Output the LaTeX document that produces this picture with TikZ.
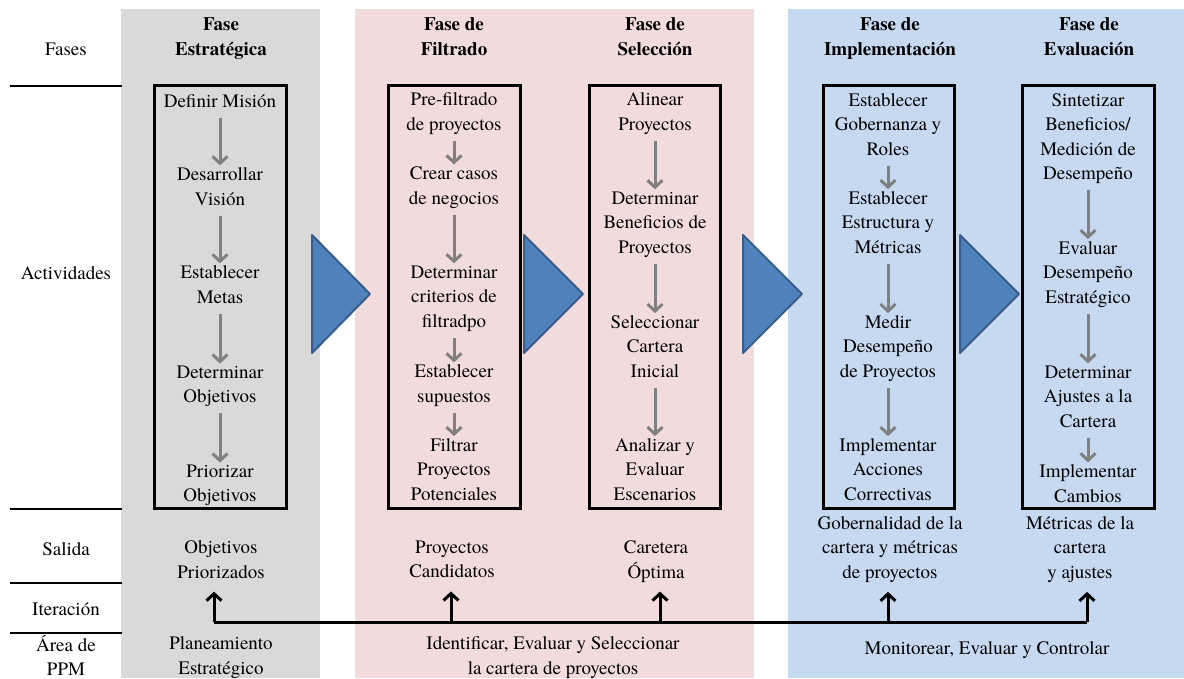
\documentclass[tikz,border=0pt]{standalone}
\usepackage{fontspec}
\setmainfont{texgyretermes}[Extension=.otf, UprightFont=*-regular, BoldFont=*-bold, ItalicFont=*-italic, BoldItalicFont=*-bolditalic]
\usetikzlibrary{arrows.meta}

\definecolor{grisfase}{HTML}{D9D9D9}
\definecolor{rosafase}{HTML}{F2DCDB}
\definecolor{azulfase}{HTML}{C6D9F1}
\definecolor{azultri}{HTML}{4F81BD}
\definecolor{bordetri}{HTML}{385D8A}
\definecolor{grisflecha}{HTML}{808080}

\tikzset{
	texto/.style={align=center, inner sep=0pt, yshift=-3pt, font=\fontsize{19}{24.5}\selectfont,
		execute at begin node=\strut, execute at end node=\strut},
	titulo/.style={texto, font=\fontsize{19}{24.5}\selectfont\bfseries},
	caja/.style={draw=black, line width=3pt},
	raya/.style={draw=black, line width=2pt},
	paso/.style={draw=grisflecha, line width=3pt, -{Straight Barb[length=7pt,width=15pt]}, shorten <=3pt, shorten >=2pt},
	triangulo/.style={fill=azultri, draw=bordetri, line width=2pt, line join=round},
	iteracion/.style={draw=black, line width=3pt},
	subida/.style={iteracion, -{Straight Barb[length=7pt,width=15pt]}, shorten >=6pt}
}

\begin{document}
\begin{tikzpicture}[x=1pt,y=-1pt]
		\useasboundingbox (0,0) rectangle (1184,678);

		% Fondos de las fases
		\fill[grisfase] (121,9) rectangle (320,678);
		\fill[rosafase] (355,9) rectangle (754,678);
		\fill[azulfase] (788,9) rectangle (1184,678);

		% Filas a la izquierda
		\draw[raya] (10,86) -- (122,86);
		\draw[raya] (10,509) -- (122,509);
		\draw[raya] (10,583) -- (122,583);
		\draw[raya] (10,633) -- (122,633);
		\node[texto] (fases) at (66,48) {Fases};
		\node[texto] (actividades) at (66,272) {Actividades};
		\node[texto] (salida) at (66,548) {Salida};
		\node[texto] (iter) at (66,608) {Iteración};
		\node[texto] (area) at (66,656) {Área de\\PPM};

		% Titulos
		\node[titulo] (tE) at (221,37) {Fase\\Estratégica};
		\node[titulo] (tF) at (454,37) {Fase de\\Filtrado};
		\node[titulo] (tS) at (655,37) {Fase de\\Selección};
		\node[titulo] (tI) at (890,37) {Fase de\\Implementación};
		\node[titulo] (tV) at (1089,37) {Fase de\\Evaluación};

		% Cajas de actividades
		\draw[caja] (154,85) rectangle (286,508);
		\draw[caja] (388,85) rectangle (520,508);
		\draw[caja] (589,85) rectangle (720,508);
		\draw[caja] (823,85) rectangle (954,508);
		\draw[caja] (1022,85) rectangle (1154,508);

		% Triangulos entre fases
		\filldraw[triangulo] (312,235) -- (370,294) -- (312,353) -- cycle;
		\filldraw[triangulo] (524,235) -- (583,294) -- (524,353) -- cycle;
		\filldraw[triangulo] (743,235) -- (802,294) -- (743,353) -- cycle;
		\filldraw[triangulo] (960,235) -- (1019,294) -- (960,353) -- cycle;

		% Estrategica
		\node[texto] (e1) at (220,100) {Definir Misión};
		\node[texto] (e2) at (220,187) {Desarrollar\\Visión};
		\node[texto] (e3) at (220,285) {Establecer\\Metas};
		\node[texto] (e4) at (220,385) {Determinar\\Objetivos};
		\node[texto] (e5) at (220,484) {Priorizar\\Objetivos};
		\draw[paso] (e1) -- (e2);
		\draw[paso] (e2) -- (e3);
		\draw[paso] (e3) -- (e4);
		\draw[paso] (e4) -- (e5);

		% Filtrado
		\node[texto] (f1) at (454,112) {Pre-filtrado\\de proyectos};
		\node[texto] (f2) at (454,186) {Crear casos\\de negocios};
		\node[texto] (f3) at (454,297) {Determinar\\criterios de\\filtradpo};
		\node[texto] (f4) at (454,384) {Establecer\\supuestos};
		\node[texto] (f5) at (454,470) {Filtrar\\Proyectos\\Potenciales};
		\draw[paso] (f1) -- (f2);
		\draw[paso] (f2) -- (f3);
		\draw[paso] (f3) -- (f4);
		\draw[paso] (f4) -- (f5);

		% Seleccion
		\node[texto] (s1) at (655,112) {Alinear\\Proyectos};
		\node[texto] (s2) at (655,223) {Determinar\\Beneficios de\\Proyectos};
		\node[texto] (s3) at (655,347) {Seleccionar\\Cartera\\Inicial};
		\node[texto] (s4) at (655,470) {Analizar y\\Evaluar\\Escenarios};
		\draw[paso] (s1) -- (s2);
		\draw[paso] (s2) -- (s3);
		\draw[paso] (s3) -- (s4);

		% Implementacion
		\node[texto] (i1) at (888,125) {Establecer\\Gobernanza y\\Roles};
		\node[texto] (i2) at (888,223) {Establecer\\Estructura y\\Métricas};
		\node[texto] (i3) at (888,347) {Medir\\Desempeño\\de Proyectos};
		\node[texto] (i4) at (888,470) {Implementar\\Acciones\\Correctivas};
		\draw[paso] (i1) -- (i2);
		\draw[paso] (i2) -- (i3);
		\draw[paso] (i3) -- (i4);

		% Evaluacion
		\node[texto] (v1) at (1088,137) {Sintetizar\\Beneficios/\\Medición de\\Desempeño};
		\node[texto] (v2) at (1088,273) {Evaluar\\Desempeño\\Estratégico};
		\node[texto] (v3) at (1088,397) {Determinar\\Ajustes a la\\Cartera};
		\node[texto] (v4) at (1088,484) {Implementar\\Cambios};
		\draw[paso] (v1) -- (v2);
		\draw[paso] (v2) -- (v3);
		\draw[paso] (v3) -- (v4);

		% Salidas
		\node[texto] (sal1) at (221,560) {Objetivos\\Priorizados};
		\node[texto] (sal2) at (452,560) {Proyectos\\Candidatos};
		\node[texto] (sal3) at (656,560) {Caretera\\Óptima};
		\node[texto] (sal4) at (890,548) {Gobernalidad de la\\cartera y métricas\\de proyectos};
		\node[texto] (sal5) at (1080,548) {Métricas de la\\cartera\\y ajustes};

		% Iteracion
		\coordinate (it1) at (214,622);
		\coordinate (it2) at (451,622);
		\coordinate (it3) at (660,622);
		\coordinate (it4) at (888,622);
		\coordinate (it5) at (1087,622);
		\draw[iteracion] (it1) -- (it5);
		\draw[subida] (it1) -- (it1 |- sal1.south);
		\draw[subida] (it2) -- (it2 |- sal2.south);
		\draw[subida] (it3) -- (it3 |- sal3.south);
		\draw[subida] (it4) -- (it4 |- sal4.south);
		\draw[subida] (it5) -- (it5 |- sal5.south);

		% Areas de PPM
		\node[texto] (a1) at (221,656) {Planeamiento\\Estratégico};
		\node[texto] (a2) at (553,656) {Identificar, Evaluar y Seleccionar\\la cartera de proyectos};
		\node[texto] (a3) at (987,647) {Monitorear, Evaluar y Controlar};

\end{tikzpicture}
\end{document}
